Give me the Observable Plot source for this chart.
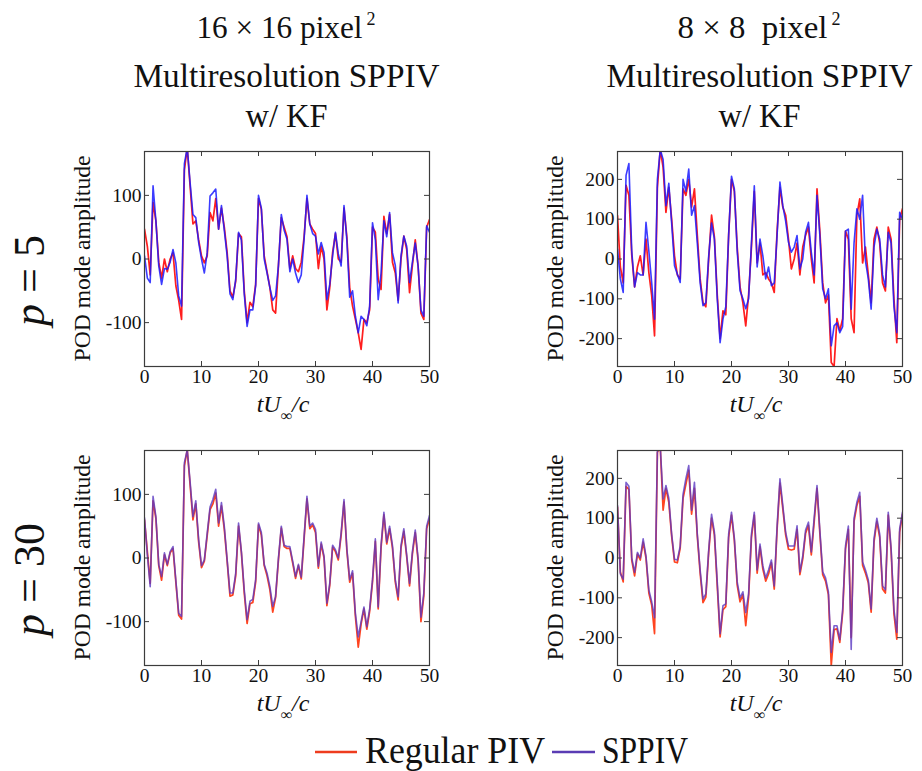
<!DOCTYPE html>
<html><head><meta charset="utf-8">
<script src="https://cdn.jsdelivr.net/npm/d3@7"></script>
<script src="https://cdn.jsdelivr.net/npm/@observablehq/plot@0.6"></script>
<style>
body{margin:0;background:#fff;}
#root{position:relative;width:922px;height:771px;overflow:hidden;font-family:"Liberation Serif","Times New Roman",serif;}
#root > svg{position:absolute;}
</style></head><body><div id="root"></div>
<script>
// ---- data ----
const t = d3.range(0, 50.001, 0.5);           // sample times tU∞/c
const xTicks = [0, 10, 20, 30, 40, 50];
const yTicks16 = [-100, 0, 100];
const yTicks8 = [-200, -100, 0, 100, 200];
const seriesNames = ["Regular PIV", "SPPIV"];
const colSizes = ["16 × 16 pixel", "8 × 8  pixel"];
const colLine2 = "Multiresolution SPPIV";
const colLine3 = "w/ KF";
const rowLabels = ["5", "30"];
const yLabel = "POD mode amplitude";

const p5_16_sppiv = [5,-30,-37,115,60,-11,-40,-15,-16,-5,
15,-6,-58,-74,150,175,120,70,65,26,
0,-22,10,99,104,110,47,84,45,5,
-55,-64,-32,42,30,-55,-106,-80,-80,-42,
100,80,0,-22,-45,-65,-58,-10,70,45,
31,-20,0,-22,-37,-25,31,100,55,40,
36,8,26,10,-64,-40,5,42,8,-11,
84,30,-60,-50,-90,-116,-90,-95,-105,-74,
57,30,-64,-22,60,35,73,10,-10,-69,
5,36,20,-37,-5,25,-11,-80,-90,52,
42];
const p5_16_regular = [47,20,-25,89,60,-5,-30,0,-20,0,
10,-42,-65,-95,140,175,115,55,60,30,
5,-6,5,73,60,95,47,80,50,10,
-50,-60,-35,40,35,-50,-100,-68,-75,-40,
95,78,5,-20,-45,-80,-85,-10,65,50,
35,-15,5,-15,-20,-5,35,95,55,47,
40,-15,20,0,-80,-45,10,40,0,-5,
80,35,-45,-74,-95,-116,-142,-95,-100,-80,
50,42,-32,-48,67,40,70,-5,-22,-65,
0,36,15,-53,-10,30,-11,-85,-95,50,
62];
const p5_8_sppiv = [25,-50,-84,210,240,20,-70,-34,-40,-40,
92,20,-60,-151,200,275,250,134,190,90,
-17,-38,-59,200,170,226,110,134,40,-60,
-117,-110,8,90,50,-100,-210,-151,-120,60,
208,176,20,-80,-100,-125,-100,40,184,-20,
50,8,-50,-20,-67,-60,60,193,134,95,
42,17,30,59,-25,0,67,92,17,-40,
160,59,-75,-100,-75,-218,-168,-160,-185,-170,
70,75,-126,40,126,100,160,-5,-50,-126,
30,75,50,-40,-70,67,40,-120,-185,117,
100];
const p5_8_regular = [109,-20,-60,185,160,10,-70,-20,8,-40,
50,-34,-92,-193,180,275,230,117,180,100,
8,-40,-50,176,160,200,130,176,60,-50,
-110,-120,0,110,55,-90,-200,-130,-140,60,
200,170,30,-70,-110,-168,-90,30,170,-10,
40,-40,-34,-50,-60,-84,70,180,130,110,
50,-25,0,40,-40,30,60,80,0,-60,
176,70,-60,-110,-90,-260,-270,-150,-180,-150,
70,50,-150,-185,110,151,-10,30,-40,-110,
50,80,40,-60,-80,80,50,-100,-210,100,
126];
const p30_16_sppiv = [63,5,-45,97,65,-10,-29,8,-10,10,
18,-35,-87,-92,150,170,120,65,90,29,
-12,-3,39,80,92,108,55,87,50,-3,
-55,-55,-24,55,10,-50,-97,-68,-65,-34,
55,40,-10,-24,-45,-76,-60,0,50,20,
18,18,-5,-29,-10,-30,34,97,50,55,
45,-13,25,3,-71,-40,20,13,0,40,
92,15,-34,-20,-87,-124,-100,-77,-108,-80,
-34,30,-77,20,72,25,50,20,-34,-61,
20,46,5,-40,10,44,0,-93,-55,50,
67];
const p30_16_regular = [60,10,-40,90,62,-12,-35,5,-12,8,
15,-38,-90,-96,145,170,115,60,85,25,
-15,-5,35,76,85,102,50,82,45,-5,
-60,-58,-28,50,8,-55,-103,-72,-70,-38,
52,36,-12,-28,-50,-85,-62,-3,47,18,
15,15,-8,-32,-12,-33,30,93,46,52,
40,-16,22,0,-75,-43,17,10,-3,36,
88,12,-38,-24,-92,-140,-104,-80,-112,-84,
-38,26,-80,16,68,22,46,16,-38,-66,
16,42,2,-44,6,40,-4,-100,-60,46,
62];
const p30_8_sppiv = [132,-40,-53,190,180,0,-36,14,0,48,
5,-80,-110,-150,270,280,148,182,150,60,
-3,-5,30,160,199,232,120,190,60,-30,
-103,-90,20,110,65,-60,-190,-120,-115,60,
115,50,-60,-100,-85,-137,-90,60,115,-30,
35,-20,-50,-30,-5,-70,80,199,132,65,
30,30,30,81,-35,5,70,90,15,100,
182,70,-35,-50,-85,-237,-170,-170,-205,-130,
30,80,-230,100,140,165,-10,-30,-55,-128,
48,100,60,-70,-80,115,25,-130,-187,73,
115];
const p30_8_regular = [128,-35,-60,180,172,-5,-45,10,-5,40,
0,-88,-118,-190,265,280,120,175,140,55,
-10,-12,25,150,185,220,110,175,55,-38,
-112,-98,14,100,58,-70,-198,-130,-122,52,
108,44,-68,-110,-92,-170,-98,52,108,-38,
28,-28,-58,-40,-12,-78,72,188,124,58,
22,20,22,72,-42,-2,62,82,8,90,
175,62,-42,-58,-92,-270,-180,-178,-212,-138,
22,72,-200,92,132,155,-18,-38,-62,-136,
40,92,52,-78,-88,108,18,-140,-204,65,
110];

// ---- layout ----
const root = document.getElementById("root");
const W = 285, H = 215, ML = 46, MR = 6, MT = 6, MB = 30;
const frameLeft = [144, 617], frameTop = [151, 450];
const axisColor = "#3c3c3c";

function panel(regular, sppiv, ymax, yticks, colors, opac) {
  const reg = t.map((tt, i) => ({t: tt, v: regular[i]}));
  const spp = t.map((tt, i) => ({t: tt, v: sppiv[i]}));
  return Plot.plot({
    width: W + ML + MR, height: H + MT + MB,
    marginLeft: ML, marginRight: MR, marginTop: MT, marginBottom: MB,
    style: {fontFamily: '"Liberation Serif", serif', fontSize: "19.5px", color: "#111", background: "transparent", overflow: "visible"},
    x: {domain: [0, 50], label: null},
    y: {domain: [-ymax, ymax], label: null},
    marks: [
      Plot.line(reg, {x: "t", y: "v", stroke: colors[0], strokeWidth: 1.7, curve: "linear", clip: true}),
      Plot.line(spp, {x: "t", y: "v", stroke: colors[1], strokeWidth: 1.6, strokeOpacity: opac, curve: "linear", clip: true}),
      Plot.frame({stroke: axisColor, strokeWidth: 1.2}),
      Plot.tickY(yticks, {y: d => d, insetRight: W - 5, stroke: axisColor}),
      Plot.tickY(yticks, {y: d => d, insetLeft: W - 5, stroke: axisColor}),
      Plot.tickX(xTicks, {x: d => d, insetTop: H - 5, stroke: axisColor}),
      Plot.tickX(xTicks, {x: d => d, insetBottom: H - 5, stroke: axisColor}),
      Plot.axisY(yticks, {tickSize: 0, tickPadding: 3, tickFormat: d => String(d), label: null}),
      Plot.axisX(xTicks, {tickSize: 0, tickPadding: 3, tickFormat: d => String(d), label: null})
    ]
  });
}

const topColors = ["#ff1e1e", "#1a1aff"];
const botColors = ["#ff4420", "#5a38c2"];
const specs = [
  [p5_16_regular, p5_16_sppiv, 169, yTicks16, topColors, 0.85, 0, 0],
  [p5_8_regular, p5_8_sppiv, 270, yTicks8, topColors, 0.85, 1, 0],
  [p30_16_regular, p30_16_sppiv, 169, yTicks16, botColors, 0.8, 0, 1],
  [p30_8_regular, p30_8_sppiv, 270, yTicks8, botColors, 0.8, 1, 1]
];
for (const [r, s, ym, yt, c, o, col, row] of specs) {
  const svg = panel(r, s, ym, yt, c, o);
  svg.style.left = (frameLeft[col] - ML) + "px";
  svg.style.top = (frameTop[row] - MT) + "px";
  root.appendChild(svg);
}

// ---- overlay text (titles, labels, legend) ----
const ov = d3.select(root).append("svg")
  .attr("width", 922).attr("height", 771)
  .style("left", "0px").style("top", "0px").style("pointer-events", "none")
  .attr("font-family", '"Liberation Serif", "Times New Roman", serif')
  .attr("fill", "#111");

const line1Len = [166, 150];
colSizes.forEach((sz, col) => {
  const cx = frameLeft[col] + W / 2;
  ov.append("text").attr("x", cx - 7).attr("y", 38).attr("text-anchor", "middle").attr("font-size", 32)
    .attr("xml:space", "preserve").attr("textLength", line1Len[col]).attr("lengthAdjust", "spacingAndGlyphs").text(sz);
  ov.append("text").attr("x", cx - 7 + line1Len[col] / 2 + 4).attr("y", 25).attr("font-size", 18).text("2");
  ov.append("text").attr("x", cx).attr("y", 87).attr("text-anchor", "middle").attr("font-size", 33)
    .attr("textLength", 306).attr("lengthAdjust", "spacingAndGlyphs").text(colLine2);
  ov.append("text").attr("x", cx).attr("y", 127).attr("text-anchor", "middle").attr("font-size", 33)
    .attr("textLength", 82).attr("lengthAdjust", "spacingAndGlyphs").text(colLine3);
});

rowLabels.forEach((lab, row) => {
  const cy = frameTop[row] + H / 2 + 22;
  const tx = ov.append("text").attr("transform", `translate(44,${cy}) rotate(-90)`)
    .attr("text-anchor", "middle").attr("font-size", 44).attr("xml:space", "preserve");
  tx.append("tspan").attr("font-style", "italic").text("p");
  tx.append("tspan").text(" = " + lab);
});

for (let col = 0; col < 2; col++) for (let row = 0; row < 2; row++) {
  const fl = frameLeft[col], ft = frameTop[row];
  ov.append("text").attr("transform", `translate(${fl - 54},${ft + H / 2}) rotate(-90)`)
    .attr("text-anchor", "middle").attr("font-size", 23)
    .attr("textLength", 206).attr("lengthAdjust", "spacingAndGlyphs").text(yLabel);
  const xl = ov.append("text").attr("x", fl + 139).attr("y", ft + H + 46)
    .attr("text-anchor", "middle").attr("font-size", 24).attr("font-style", "italic");
  xl.append("tspan").text("tU");
  xl.append("tspan").attr("font-size", 16).attr("dy", 9).text("∞");
  xl.append("tspan").attr("dy", -9).text("/c");
}

// legend
const legColors = ["#ee3c1e", "#5a3cb4"];
const legX = [[315, 357, 365, 180], [552, 595, 602, 86]];
seriesNames.forEach((name, i) => {
  const [x1, x2, tx, len] = legX[i];
  ov.append("line").attr("x1", x1).attr("x2", x2).attr("y1", 752).attr("y2", 752)
    .attr("stroke", legColors[i]).attr("stroke-width", 2.5);
  ov.append("text").attr("x", tx).attr("y", 763).attr("font-size", 38)
    .attr("textLength", len).attr("lengthAdjust", "spacingAndGlyphs").text(name);
});
</script></body></html>
